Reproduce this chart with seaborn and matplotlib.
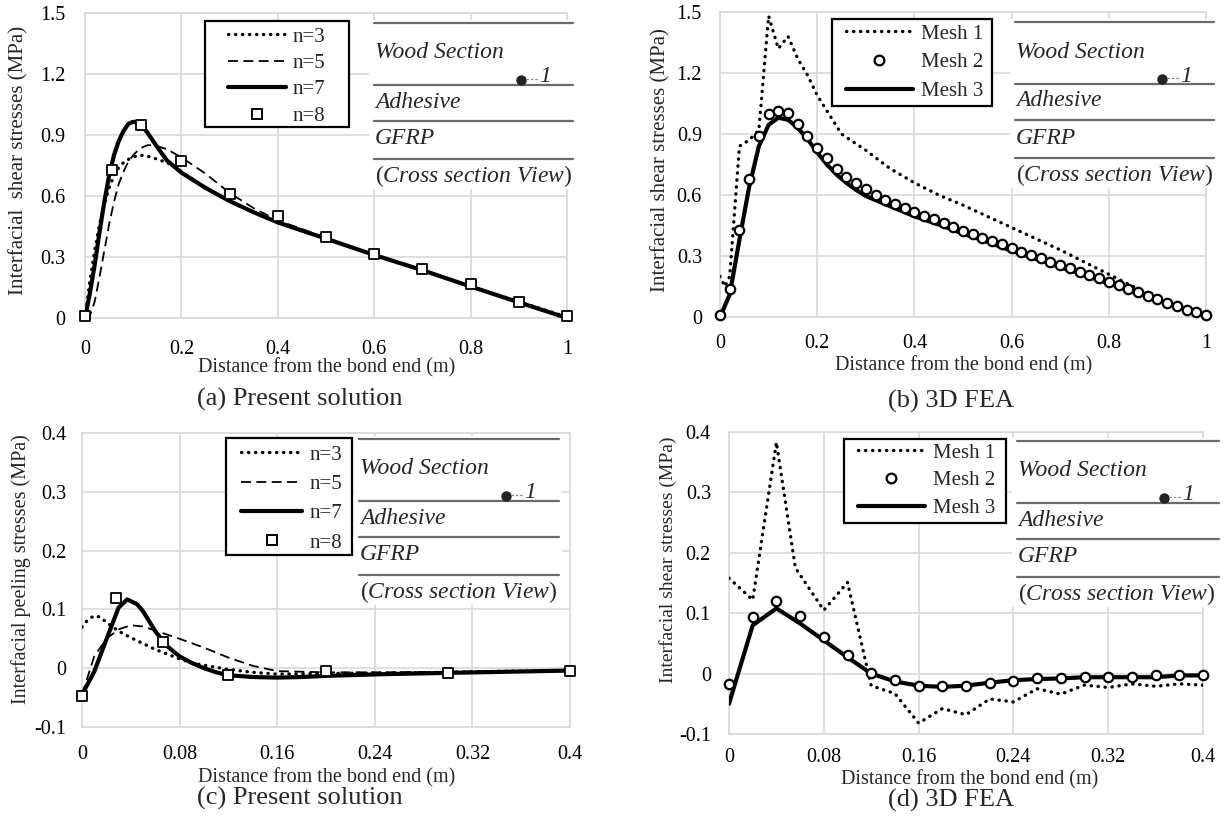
import matplotlib
matplotlib.use("Agg")
import matplotlib.pyplot as plt
from matplotlib.lines import Line2D
from matplotlib.patches import Rectangle
import seaborn as sns

# ---------------- data ----------------
# (a) present solution, interfacial shear stress
A_X = [0, 0.01, 0.02, 0.03, 0.04, 0.05, 0.06, 0.07, 0.08, 0.09, 0.10, 0.11, 0.12, 0.13,
       0.14, 0.15, 0.17, 0.20, 0.25, 0.30, 0.35, 0.40, 0.50, 0.60, 0.70, 0.80, 0.90, 1.00]
A_N3 = [0.0, 0.18, 0.33, 0.46, 0.56, 0.64, 0.70, 0.74, 0.765, 0.78, 0.79, 0.80, 0.80, 0.795,
        0.79, 0.78, 0.765, 0.72, 0.64, 0.575, 0.52, 0.47, 0.39, 0.31, 0.235, 0.155, 0.08, 0.005]
A_N5 = [0.0, 0.01, 0.08, 0.20, 0.33, 0.46, 0.57, 0.66, 0.72, 0.77, 0.80, 0.825, 0.84, 0.85,
        0.85, 0.845, 0.83, 0.79, 0.71, 0.615, 0.54, 0.48, 0.395, 0.31, 0.235, 0.155, 0.075, 0.0]
A_N7 = [0.0, 0.12, 0.26, 0.42, 0.57, 0.70, 0.80, 0.87, 0.92, 0.955, 0.965, 0.96, 0.94, 0.91,
        0.875, 0.84, 0.775, 0.715, 0.64, 0.575, 0.52, 0.47, 0.39, 0.31, 0.235, 0.155, 0.077, 0.0]
A_N8_X = [0, 0.056, 0.117, 0.2, 0.3, 0.4, 0.5, 0.6, 0.7, 0.8, 0.9, 1.0]
A_N8 = [0.01, 0.73, 0.95, 0.77, 0.61, 0.50, 0.40, 0.315, 0.24, 0.165, 0.08, 0.01]

# (b) 3D FEA, interfacial shear stress
B_M1_X = [0, 0.01, 0.02, 0.04, 0.06, 0.08, 0.10, 0.12, 0.14, 0.16, 0.18, 0.20, 0.25, 0.30,
          0.35, 0.40, 0.45, 0.50, 0.55, 0.60, 0.65, 0.70, 0.75, 0.80, 0.85, 0.90, 0.92]
B_M1 = [0.20, 0.15, 0.20, 0.84, 0.87, 0.92, 1.48, 1.32, 1.38, 1.27, 1.19, 1.09, 0.90, 0.82,
        0.73, 0.66, 0.60, 0.55, 0.495, 0.44, 0.385, 0.33, 0.27, 0.21, 0.15, 0.09, 0.07]
B_M2_X = [0.00, 0.02, 0.04, 0.06, 0.08, 0.10, 0.12, 0.14, 0.16, 0.18, 0.20, 0.22, 0.24,
          0.26, 0.28, 0.30, 0.32, 0.34, 0.36, 0.38, 0.40, 0.42, 0.44, 0.46, 0.48, 0.50,
          0.52, 0.54, 0.56, 0.58, 0.60, 0.62, 0.64, 0.66, 0.68, 0.70, 0.72, 0.74, 0.76,
          0.78, 0.80, 0.82, 0.84, 0.86, 0.88, 0.90, 0.92, 0.94, 0.96, 0.98, 1.00]
B_M2 = [0.01, 0.14, 0.43, 0.68, 0.89, 1.00, 1.015, 1.005, 0.95, 0.89, 0.83, 0.78, 0.73,
        0.69, 0.66, 0.63, 0.60, 0.575, 0.555, 0.535, 0.515, 0.497, 0.48, 0.462, 0.443, 0.425,
        0.407, 0.39, 0.373, 0.357, 0.34, 0.322, 0.305, 0.288, 0.272, 0.255, 0.24, 0.222, 0.205,
        0.19, 0.172, 0.155, 0.138, 0.121, 0.104, 0.087, 0.07, 0.053, 0.036, 0.024, 0.012]
B_M3_X = [0, 0.02, 0.04, 0.06, 0.08, 0.10, 0.12, 0.14, 0.16, 0.18, 0.20, 0.22, 0.24, 0.26,
          0.28, 0.30, 0.35, 0.40, 0.45, 0.50, 0.55, 0.60, 0.65, 0.70, 0.75, 0.80, 0.85, 0.90]
B_M3 = [0.0, 0.11, 0.38, 0.64, 0.84, 0.945, 0.98, 0.97, 0.93, 0.875, 0.81, 0.75, 0.70, 0.66,
        0.625, 0.595, 0.545, 0.495, 0.455, 0.41, 0.37, 0.325, 0.285, 0.245, 0.205, 0.165, 0.125, 0.085]

# (c) present solution, interfacial peeling stress
C_N3_X = [0, 0.005, 0.01, 0.015, 0.02, 0.03, 0.04, 0.05, 0.06, 0.07, 0.08, 0.09, 0.10,
          0.12, 0.14, 0.16, 0.20, 0.25, 0.30, 0.35, 0.40]
C_N3 = [0.07, 0.083, 0.089, 0.087, 0.078, 0.063, 0.052, 0.042, 0.032, 0.024, 0.016, 0.009,
        0.005, -0.002, -0.007, -0.010, -0.009, -0.008, -0.007, -0.005, -0.004]
C_N5_X = [0, 0.01, 0.02, 0.03, 0.04, 0.05, 0.06, 0.08, 0.10, 0.12, 0.14, 0.16, 0.20, 0.25,
          0.30, 0.35, 0.40]
C_N5 = [-0.045, 0.02, 0.05, 0.066, 0.073, 0.071, 0.064, 0.05, 0.035, 0.018, 0.004, -0.005,
        -0.007, -0.007, -0.006, -0.005, -0.004]
C_N7_X = [0, 0.01, 0.02, 0.03, 0.037, 0.045, 0.05, 0.06, 0.07, 0.08, 0.09, 0.10, 0.11, 0.12,
          0.14, 0.16, 0.18, 0.20, 0.25, 0.30, 0.35, 0.40]
C_N7 = [-0.045, -0.006, 0.049, 0.103, 0.117, 0.109, 0.097, 0.063, 0.037, 0.02, 0.009, 0.0,
        -0.007, -0.012, -0.015, -0.016, -0.015, -0.013, -0.01, -0.008, -0.006, -0.004]
C_N8_X = [0, 0.028, 0.066, 0.12, 0.2, 0.3, 0.4]
C_N8 = [-0.047, 0.119, 0.045, -0.012, -0.004, -0.008, -0.004]

# (d) 3D FEA
D_M1_X = [0, 0.02, 0.04, 0.056, 0.08, 0.10, 0.12, 0.14, 0.16, 0.18, 0.20, 0.22, 0.24, 0.26,
          0.28, 0.30, 0.32, 0.34, 0.36, 0.38, 0.40]
D_M1 = [0.158, 0.122, 0.383, 0.175, 0.105, 0.151, -0.02, -0.033, -0.082, -0.058, -0.068,
        -0.042, -0.047, -0.025, -0.034, -0.019, -0.023, -0.017, -0.021, -0.017, -0.019]
D_X = [0, 0.02, 0.04, 0.06, 0.08, 0.10, 0.12, 0.14, 0.16, 0.18, 0.20, 0.22, 0.24, 0.26,
       0.28, 0.30, 0.32, 0.34, 0.36, 0.38, 0.40]
D_M2 = [-0.018, 0.093, 0.12, 0.096, 0.061, 0.03, 0.001, -0.011, -0.021, -0.021, -0.02,
        -0.015, -0.012, -0.008, -0.008, -0.0055, -0.0055, -0.0055, -0.003, -0.003, -0.003]
D_M3 = [-0.05, 0.08, 0.108, 0.083, 0.055, 0.027, 0.0, -0.013, -0.02, -0.022, -0.02,
        -0.015, -0.011, -0.009, -0.008, -0.006, -0.006, -0.006, -0.006, -0.003, -0.003]

# ticks
TOP_X_TICKS = [0, 0.2, 0.4, 0.6, 0.8, 1.0]
TOP_X_LABELS = ["0", "0.2", "0.4", "0.6", "0.8", "1"]
TOP_Y_TICKS = [0, 0.3, 0.6, 0.9, 1.2, 1.5]
TOP_Y_LABELS = ["0", "0.3", "0.6", "0.9", "1.2", "1.5"]
BOT_X_TICKS = [0, 0.08, 0.16, 0.24, 0.32, 0.4]
BOT_X_LABELS = ["0", "0.08", "0.16", "0.24", "0.32", "0.4"]
BOT_Y_TICKS = [-0.1, 0, 0.1, 0.2, 0.3, 0.4]
BOT_Y_LABELS = ["-0.1", "0", "0.1", "0.2", "0.3", "0.4"]

SOLUTION_LABELS = ["n=3", "n=5", "n=7", "n=8"]
MESH_LABELS = ["Mesh 1", "Mesh 2", "Mesh 3"]
XLABEL = "Distance from the bond end (m)"

# ---------------- style ----------------
sns.set_theme(style="whitegrid")
plt.rcParams["font.family"] = ["Liberation Serif", "DejaVu Serif"]
plt.rcParams["mathtext.fontset"] = "custom"
plt.rcParams["mathtext.rm"] = "Liberation Serif"
plt.rcParams["mathtext.it"] = "Liberation Serif:italic"

W, H = 1225, 824
fig = plt.figure(figsize=(W / 100, H / 100), dpi=100)
fig.patch.set_facecolor("white")


def fx(px):
    return px / W


def fy(py):
    return 1 - py / H


def axes_px(left, top, right, bottom):
    return fig.add_axes([fx(left), fy(bottom), (right - left) / W, (bottom - top) / H])


GRID = "#d9d9d9"
DOT = dict(color="black", linewidth=2.4, linestyle=(0, (0.1, 2.0)), dash_capstyle="round")
DASH = dict(color="black", linewidth=1.3, linestyle=(0, (5.5, 3.0)))
SOLID = dict(color="black", linewidth=3.0, solid_capstyle="round", solid_joinstyle="round")


def style_axes(ax, xt, xl, yt, yl, xpad, ypad):
    ax.set_facecolor("white")
    ax.set_xlim(xt[0], xt[-1])
    ax.set_ylim(yt[0], yt[-1])
    ax.set_xticks(xt)
    ax.set_xticklabels(xl)
    ax.set_yticks(yt)
    ax.set_yticklabels(yl)
    ax.grid(True, color=GRID, linewidth=1.2)
    ax.set_axisbelow(True)
    for sp in ax.spines.values():
        sp.set_visible(True)
        sp.set_color(GRID)
        sp.set_linewidth(1.2)
    ax.tick_params(axis="x", length=0, labelsize=14.5, pad=xpad, colors="black")
    ax.tick_params(axis="y", length=0, labelsize=14.5, pad=ypad, colors="black")
    ax.set_xlabel("")
    ax.set_ylabel("")


def line(ax, x, y, kw):
    sns.lineplot(x=x, y=y, ax=ax, estimator=None, sort=False, legend=False, zorder=3, **kw)


def markers(ax, x, y, marker, size, lw):
    sns.scatterplot(x=x, y=y, ax=ax, marker=marker, s=size, color="white",
                    edgecolor="black", linewidth=lw, zorder=5, clip_on=False, legend=False)


def legend(ax, handles, labels, box, first_left, first_top, hl, tp, ls):
    """Frameless legend placed inside a black box given as (left, top, right, bottom) px."""
    l, t, r, b = box
    ax.add_patch(Rectangle((fx(l), fy(b)), (r - l) / W, (b - t) / H, transform=fig.transFigure,
                           facecolor="white", edgecolor="black", linewidth=1.6,
                           zorder=9, clip_on=False))
    leg = ax.legend(handles, labels, loc="upper left",
                    bbox_to_anchor=(fx(first_left), fy(first_top)),
                    bbox_transform=fig.transFigure, frameon=False, fontsize=15,
                    handlelength=hl, handletextpad=tp, labelspacing=ls,
                    borderpad=0, borderaxespad=0)
    leg.set_zorder(10)


def cross_section(x0, x1, ytop):
    fig.add_artist(Rectangle((fx(x0 - 5), fy(ytop + 166)), (x1 - x0 + 8) / W, 169 / H,
                             transform=fig.transFigure, facecolor="white",
                             edgecolor="none", zorder=1))
    for dy in (0, 62, 98, 136):
        fig.add_artist(Line2D([fx(x0), fx(x1)], [fy(ytop + dy)] * 2, color="#6a6a6a",
                              linewidth=1.6, transform=fig.transFigure, zorder=2))
    texts = [(30, "Wood Section"), (79, "Adhesive"), (116, "GFRP")]
    for dy, t in texts:
        fig.text(fx(x0 + 1), fy(ytop + dy), t, style="italic", fontsize=17,
                 ha="left", va="center", zorder=3)
    fig.text(fx(x0 + 1), fy(ytop + 153), r"$(\mathit{Cross\ section\ View})$",
             fontsize=17, ha="left", va="center", zorder=3)
    fig.add_artist(Line2D([fx(x0 + 147)], [fy(ytop + 57)], marker="o", markersize=6.5,
                          color="#222222", linestyle="none", transform=fig.transFigure, zorder=3))
    fig.add_artist(Line2D([fx(x0 + 152), fx(x0 + 164)], [fy(ytop + 56)] * 2, color="#888888",
                          linewidth=0.9, linestyle=(0, (2, 1.5)), transform=fig.transFigure, zorder=3))
    fig.text(fx(x0 + 165), fy(ytop + 54), "1", style="italic", fontsize=17,
             ha="left", va="center", zorder=3)


def solution_handles():
    return [Line2D([], [], **DOT), Line2D([], [], **DASH), Line2D([], [], **SOLID),
            Line2D([], [], linestyle="none", marker="s", markersize=7, markerfacecolor="white",
                   markeredgecolor="black", markeredgewidth=1.4)]


def mesh_handles():
    return [Line2D([], [], **DOT),
            Line2D([], [], linestyle="none", marker="o", markersize=7, markerfacecolor="white",
                   markeredgecolor="black", markeredgewidth=1.6),
            Line2D([], [], **SOLID)]


# ---------------- (a) ----------------
ax_a = axes_px(85, 13, 567, 318)
line(ax_a, A_X, A_N3, DOT)
line(ax_a, A_X, A_N5, DASH)
line(ax_a, A_X, A_N7, SOLID)
markers(ax_a, A_N8_X, A_N8, "s", 45, 1.3)
style_axes(ax_a, TOP_X_TICKS, TOP_X_LABELS, TOP_Y_TICKS, TOP_Y_LABELS, 16, 14)
legend(ax_a, solution_handles(), SOLUTION_LABELS, (205, 21, 349, 127), 228, 27, 2.8, 0.29, 0.33)
cross_section(374, 573, 23)

# ---------------- (b) ----------------
ax_b = axes_px(720, 12, 1206, 317)
line(ax_b, B_M1_X, B_M1, DOT)
line(ax_b, B_M3_X, B_M3, SOLID)
markers(ax_b, B_M2_X, B_M2, "o", 46, 1.6)
style_axes(ax_b, TOP_X_TICKS, TOP_X_LABELS, TOP_Y_TICKS, TOP_Y_LABELS, 12, 13)
legend(ax_b, mesh_handles(), MESH_LABELS, (832, 19, 992, 106), 846, 24, 3.2, 0.38, 0.44)
cross_section(1015, 1214, 22)

# ---------------- (c) ----------------
ax_c = axes_px(82, 433, 570, 727)
line(ax_c, C_N3_X, C_N3, DOT)
line(ax_c, C_N5_X, C_N5, DASH)
line(ax_c, C_N7_X, C_N7, SOLID)
markers(ax_c, C_N8_X, C_N8, "s", 45, 1.3)
style_axes(ax_c, BOT_X_TICKS, BOT_X_LABELS, BOT_Y_TICKS, BOT_Y_LABELS, 13, 11)
legend(ax_c, solution_handles(), SOLUTION_LABELS, (226, 438, 352, 555), 241, 445, 2.93, 0.34, 0.47)
cross_section(359, 559, 439)

# ---------------- (d) ----------------
ax_d = axes_px(729, 432, 1203, 734)
line(ax_d, D_M1_X, D_M1, DOT)
line(ax_d, D_X, D_M3, SOLID)
markers(ax_d, D_X, D_M2, "o", 46, 1.6)
style_axes(ax_d, BOT_X_TICKS, BOT_X_LABELS, BOT_Y_TICKS, BOT_Y_LABELS, 10, 13)
legend(ax_d, mesh_handles(), MESH_LABELS, (844, 439, 1006, 523), 858, 443, 3.2, 0.38, 0.39)
cross_section(1017, 1219, 441)

# ---------------- axis titles and captions ----------------
fig.text(fx(19), fy(160), "Interfacial  shear stresses (MPa)", rotation=90, fontsize=15,
         ha="center", va="center")
fig.text(fx(661), fy(160), "Interfacial shear stresses (MPa)", rotation=90, fontsize=15,
         ha="center", va="center")
fig.text(fx(21), fy(569), "Interfacial peeling stresses (MPa)", rotation=90, fontsize=14.5,
         ha="center", va="center")
fig.text(fx(668), fy(560), "Interfacial shear stresses (MPa)", rotation=90, fontsize=14,
         ha="center", va="center")

fig.text(fx(327), fy(368), XLABEL, fontsize=14.5, ha="center", va="center")
fig.text(fx(964), fy(366), XLABEL, fontsize=14.5, ha="center", va="center")
fig.text(fx(327), fy(778), XLABEL, fontsize=14.5, ha="center", va="center")
fig.text(fx(970), fy(780), XLABEL, fontsize=14.5, ha="center", va="center")

fig.text(fx(300), fy(399), "(a) Present solution", fontsize=19, ha="center", va="center")
fig.text(fx(951), fy(401), "(b) 3D FEA", fontsize=19, ha="center", va="center")
fig.text(fx(300), fy(798), "(c) Present solution", fontsize=19, ha="center", va="center")
fig.text(fx(951), fy(800), "(d) 3D FEA", fontsize=19, ha="center", va="center")

fig.savefig("out.png", dpi=100, facecolor="white")
